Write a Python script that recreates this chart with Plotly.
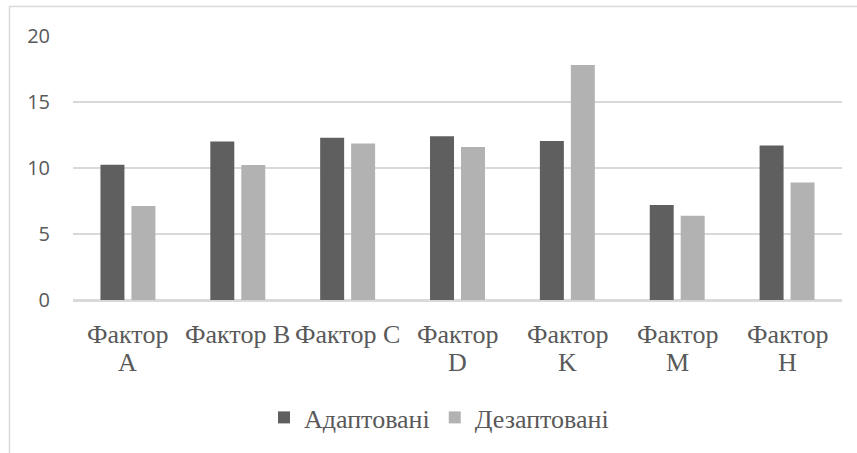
import plotly.graph_objects as go

categories = ["Фактор A", "Фактор B", "Фактор C", "Фактор D", "Фактор K", "Фактор M", "Фактор H"]
label_line1 = ["Фактор", "Фактор B", "Фактор C", "Фактор", "Фактор", "Фактор", "Фактор"]
label_line2 = ["A", "", "", "D", "K", "M", "H"]
adapted = [10.25, 12.0, 12.3, 12.4, 12.05, 7.2, 11.7]
disadapted = [7.12, 10.22, 11.85, 11.6, 17.8, 6.38, 8.9]
series_names = ["Адаптовані", "Дезаптовані"]
y_ticks = [0, 5, 10, 15, 20]

W, H = 857, 453
L, R, T, B = 73, 15, 36, 153
pw, ph = W - L - R, H - T - B

GRID = "#d9d9d9"
TXT = "#595959"
SERIF = "Liberation Serif"

fig = go.Figure()
fig.add_trace(go.Bar(x=categories, y=adapted, name=series_names[0],
                     marker=dict(color="#5f5f5f", line=dict(width=0))))
fig.add_trace(go.Bar(x=categories, y=disadapted, name=series_names[1],
                     marker=dict(color="#b2b2b2", line=dict(width=0))))

def px_x(p):
    return (p - L) / pw

def px_y(p):
    return (H - B - p) / ph

# outer chart border
fig.add_shape(type="rect", xref="paper", yref="paper",
              x0=px_x(9.5), x1=px_x(870), y0=px_y(470), y1=px_y(6.5),
              line=dict(color=GRID, width=1.5), fillcolor="rgba(0,0,0,0)", layer="below")

# category labels (two lines, tight spacing as in the reference)
for cat, l1, l2 in zip(categories, label_line1, label_line2):
    fig.add_annotation(x=cat, xref="x", y=px_y(334), yref="paper", text=l1,
                       showarrow=False, xanchor="center", yanchor="middle",
                       font=dict(family=SERIF, size=26, color=TXT))
    if l2:
        fig.add_annotation(x=cat, xref="x", y=px_y(362), yref="paper", text=l2,
                           showarrow=False, xanchor="center", yanchor="middle",
                           font=dict(family=SERIF, size=26, color=TXT))

fig.update_layout(
    width=W, height=H,
    margin=dict(l=L, r=R, t=T, b=B, pad=0, autoexpand=False),
    font=dict(family=SERIF, color=TXT),
    paper_bgcolor="white", plot_bgcolor="white",
    barmode="group", bargap=0.436, bargroupgap=0.226,
    showlegend=True,
    legend=dict(orientation="h", xref="container", yref="container",
                x=264 / W, xanchor="left", y=1 - 394 / H, yanchor="top",
                font=dict(family=SERIF, size=26, color=TXT),
                itemwidth=30, traceorder="normal", bgcolor="rgba(0,0,0,0)"),
    xaxis=dict(showticklabels=False, showgrid=False, showline=True, linecolor=GRID,
               linewidth=1.5, ticks="", automargin=False, fixedrange=True),
    yaxis=dict(range=[0, 20], tickvals=y_ticks,
               tickfont=dict(family="Open Sans", size=20, color=TXT),
               showgrid=True, gridcolor=GRID, gridwidth=1.5,
               zeroline=True, zerolinecolor=GRID, zerolinewidth=1.5,
               showline=False, ticks="", ticklabelstandoff=22, automargin=False,
               fixedrange=True),
)

fig.write_html("out.html", config={"displayModeBar": False},
               post_script="document.body.style.margin='0';document.body.style.padding='0';")
